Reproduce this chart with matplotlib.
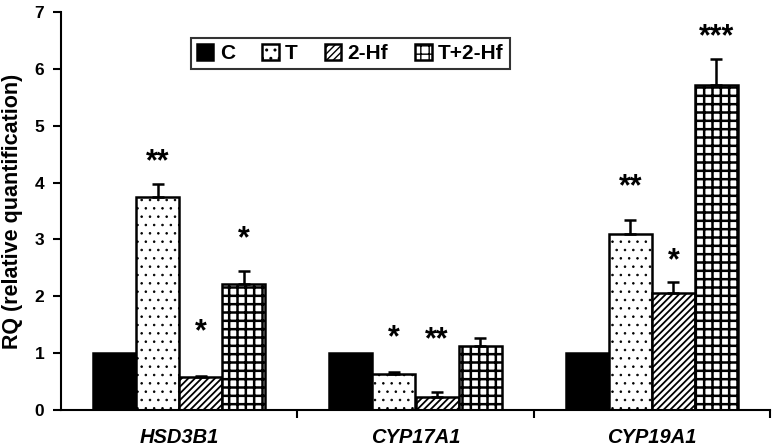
#!/usr/bin/env python3
"""RQ bar chart for steroidogenic genes."""

import numpy as np
import matplotlib.pyplot as plt
from matplotlib.ticker import FixedLocator

plt.rcParams['font.family'] = ['Liberation Sans', 'DejaVu Sans']
plt.rcParams['font.weight'] = 'bold'

genes = ['HSD3B1', 'CYP17A1', 'CYP19A1']
groups = ['C', 'T', '2-Hf', 'T+2-Hf']
values = {
    'C': [1.0, 1.0, 1.0],
    'T': [3.75, 0.63, 3.1],
    '2-Hf': [0.58, 0.22, 2.05],
    'T+2-Hf': [2.22, 1.13, 5.72],
}
errors = {
    'C': [0, 0, 0],
    'T': [0.22, 0.03, 0.25],
    '2-Hf': [0.02, 0.09, 0.2],
    'T+2-Hf': [0.23, 0.14, 0.46],
}
stars = {
    'T': ['**', '*', '**'],
    '2-Hf': ['*', '**', '*'],
    'T+2-Hf': ['*', '', '***'],
}
star_y = {
    'T': [4.43, 1.35, 3.99],
    '2-Hf': [1.44, 1.30, 2.69],
    'T+2-Hf': [3.08, 0, 6.63],
}

def main():
    fig = plt.figure(figsize=(7.72, 4.47), dpi=100)
    ax = fig.add_axes([61 / 772, 37 / 447, 709 / 772, 398 / 447])

    styles = {
        'C': dict(color='black', hatch=None, hlw=1.0),
        'T': dict(color='white', hatch='..', hlw=0.6),
        '2-Hf': dict(color='white', hatch='/////', hlw=1.3),
        'T+2-Hf': dict(color='white', hatch='++', hlw=1.8),
    }
    x = np.arange(len(genes))
    w = 0.182
    for i, g in enumerate(groups):
        pos = x + (i - 1.5) * w
        with plt.rc_context({'hatch.linewidth': styles[g]['hlw']}):
            ax.bar(pos, values[g], w, facecolor=styles[g]['color'], hatch=styles[g]['hatch'],
                   edgecolor='black', linewidth=1.8, label=g, zorder=2)
        if g != 'C':
            ax.errorbar(pos, values[g], yerr=[np.zeros(3), errors[g]], fmt='none',
                        ecolor='black', elinewidth=1.8, capsize=4.5, capthick=1.8, zorder=3)
            for p, s, y in zip(pos, stars[g], star_y[g]):
                if s:
                    ax.text(p, y - 0.08, s, ha='center', va='center', fontsize=22,
                            fontweight='bold')

    ax.set_xlim(-0.5, 2.5)
    ax.set_ylim(0, 7)
    ax.set_yticks(range(8))
    ax.set_xticks(x)
    ax.set_xticklabels(genes, fontsize=14.5, fontstyle='italic', fontweight='bold')
    ax.tick_params(axis='x', length=0, pad=13)
    ax.xaxis.set_minor_locator(FixedLocator([0.5, 1.5, 2.5]))
    ax.tick_params(axis='x', which='minor', length=6, width=1.5, direction='out')
    ax.tick_params(axis='y', labelsize=12.5, length=6, width=1.5, direction='out', pad=6)
    ax.set_ylabel('RQ (relative quantification)', fontsize=15.5, fontweight='bold', labelpad=8)
    for s in ['top', 'right']:
        ax.spines[s].set_visible(False)
    for s in ['left', 'bottom']:
        ax.spines[s].set_linewidth(1.5)

    leg = ax.legend(loc='upper center', bbox_to_anchor=(0.408, 0.962), ncol=4, frameon=True,
                    fancybox=False, edgecolor='black', fontsize=15, handlelength=0.8,
                    handleheight=0.8, handletextpad=0.3, columnspacing=1.3, borderpad=0.3)
    leg.get_frame().set_linewidth(1.5)

    fig.savefig('out.png', dpi=100)

if __name__ == '__main__':
    main()
